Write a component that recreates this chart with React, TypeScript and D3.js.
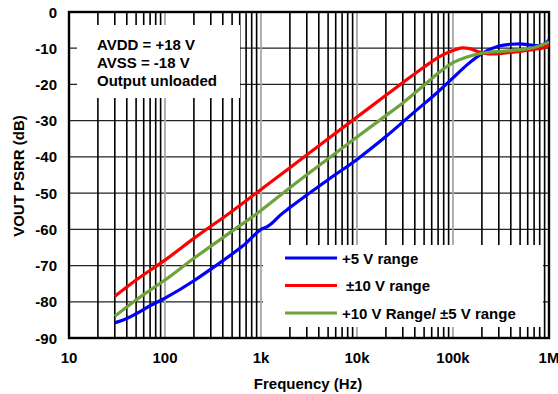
import React from "react";
import * as d3 from "d3";

const yTicks = [0, -10, -20, -30, -40, -50, -60, -70, -80, -90];
const xTickValues = [10, 100, 1000, 10000, 100000, 1000000];
const xTickLabels = ["10", "100", "1k", "10k", "100k", "1M"];

const seriesNames = ["+5 V range", "±10 V range", "+10 V Range/ ±5 V range"];
const seriesColors = ["#0000ff", "#ff0000", "#6ea23a"];

const blueFreq = [30, 40, 50, 70, 100, 200, 300, 500, 700, 900, 1000, 1150, 1300, 1600, 2000, 5000, 10000, 20000, 40000, 70000, 100000, 140000, 200000, 300000, 400000, 500000, 600000, 750000, 850000, 1000000];
const blueDb = [-85.8, -84.6, -83.3, -81.1, -79, -74.2, -71, -66.8, -63.8, -61, -60, -59.3, -58.3, -56, -54, -46.3, -40.7, -34.4, -27.5, -22, -18.2, -14.6, -11.5, -9.4, -8.9, -8.8, -9, -9.3, -9.1, -7.8];

const redFreq = [30, 50, 100, 200, 500, 1000, 2000, 5000, 10000, 20000, 30000, 50000, 70000, 100000, 125000, 150000, 180000, 250000, 350000, 500000, 700000, 850000, 1000000];
const redDb = [-78.5, -74, -68.5, -62.5, -55, -49, -43, -35, -29, -23, -19.5, -15.2, -12.5, -10.6, -9.9, -10.1, -10.9, -11.6, -11.3, -10.9, -10.3, -10, -9];

const greenFreq = [30, 50, 100, 200, 500, 1000, 2000, 5000, 10000, 20000, 30000, 50000, 70000, 100000, 140000, 200000, 350000, 500000, 700000, 1000000];
const greenDb = [-84, -79.5, -74, -68, -60.5, -54.8, -48.5, -40.5, -34.5, -28.6, -25.1, -20.2, -16.9, -14, -12.4, -11.4, -10.8, -10.4, -9.8, -8.3];

const annotationLines = ["AVDD = +18 V", "AVSS = -18 V", "Output unloaded"];

const FONT = "'Liberation Sans', Arial, Helvetica, sans-serif";

export default function App() {
  const W = 558, H = 394;
  const x = d3.scaleLog().domain([10, 1e6]).range([69, 549]);
  const y = d3.scaleLinear().domain([-90, 0]).range([338, 12]);

  const minor: number[] = [];
  for (let dec = 10; dec < 1e6; dec *= 10) {
    for (let k = 2; k <= 9; k++) minor.push(dec * k);
  }
  const major = [100, 1000, 10000, 100000];

  const line = d3
    .line<[number, number]>()
    .x((d) => x(d[0]))
    .y((d) => y(d[1]))
    .curve(d3.curveMonotoneX);

  const series = [
    { f: blueFreq, v: blueDb },
    { f: redFreq, v: redDb },
    { f: greenFreq, v: greenDb },
  ];

  const [x0, x1] = x.range();
  const [yb, yt] = y.range();

  return (
    <svg width={W} height={H} style={{ position: "absolute", left: 0, top: 0, background: "#fff" }} fontFamily={FONT}>
      <rect x={0} y={0} width={W} height={H} fill="#fff" />
      {yTicks.filter((t) => t !== 0 && t !== -90).map((t) => (
        <line key={"h" + t} x1={x0} x2={x1} y1={y(t)} y2={y(t)} stroke="#222" strokeWidth={1.3} />
      ))}
      {minor.map((f) => (
        <line key={"m" + f} x1={x(f)} x2={x(f)} y1={yt} y2={yb} stroke="#000" strokeWidth={1.6} />
      ))}
      {major.map((f) => (
        <line key={"M" + f} x1={x(f)} x2={x(f)} y1={yt} y2={yb} stroke="#a8a8a8" strokeWidth={1.8} />
      ))}
      <rect x={77} y={25} width={163} height={73} fill="#fff" />
      <rect x={263} y={245} width={280} height={82} fill="#fff" />
      <rect x={x0} y={yt} width={x1 - x0} height={yb - yt} fill="none" stroke="#000" strokeWidth={2.4} />
      {series.map((s, i) => (
        <path
          key={"s" + i}
          d={line(s.f.map((f, j) => [f, s.v[j]] as [number, number])) || ""}
          fill="none"
          stroke={seriesColors[i]}
          strokeWidth={3.2}
          strokeLinejoin="round"
        />
      ))}
      {yTicks.map((t) => (
        <text key={"yt" + t} x={57} y={y(t)} textAnchor="end" dominantBaseline="central" fontSize={15} fontWeight="bold">
          {t === 0 ? "0" : String(t)}
        </text>
      ))}
      {xTickValues.map((v, i) => (
        <text key={"xt" + v} x={x(v)} y={357} textAnchor="middle" dominantBaseline="central" fontSize={15} fontWeight="bold">
          {xTickLabels[i]}
        </text>
      ))}
      <text x={308} y={383} textAnchor="middle" dominantBaseline="central" fontSize={15} fontWeight="bold">
        Frequency (Hz)
      </text>
      <text
        transform={`translate(18,176) rotate(-90)`}
        textAnchor="middle"
        dominantBaseline="central"
        fontSize={15}
        fontWeight="bold"
      >
        VOUT PSRR (dB)
      </text>
      {annotationLines.map((s, i) => (
        <text key={"a" + i} x={97} y={44.5 + i * 17.8} dominantBaseline="central" fontSize={15} fontWeight="bold">
          {s}
        </text>
      ))}
      {seriesNames.map((n, i) => (
        <g key={"l" + i}>
          <line x1={285} x2={337} y1={258 + i * 27.5} y2={258 + i * 27.5} stroke={seriesColors[i]} strokeWidth={3} />
          <text x={i === 1 ? 346 : 342} y={258 + i * 27.5} dominantBaseline="central" fontSize={15} fontWeight="bold">
            {n}
          </text>
        </g>
      ))}
    </svg>
  );
}
